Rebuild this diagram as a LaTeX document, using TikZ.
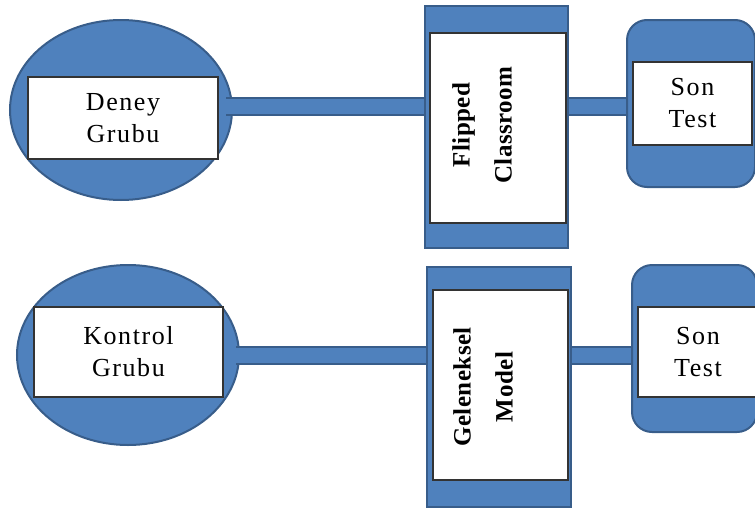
\documentclass[tikz,border=0pt]{standalone}
\usepackage{fontspec}
\setmainfont{Liberation Serif}
\newfontfamily\kutufont[LetterSpace=6]{Liberation Serif}
\newfontfamily\dikfont[LetterSpace=2]{Liberation Serif}
\usetikzlibrary{shapes.geometric}
\definecolor{kutumavi}{HTML}{4F81BD}
\definecolor{kenarmavi}{HTML}{385D8A}
\tikzset{
  mavi/.style={fill=kutumavi, draw=kenarmavi, line width=2pt, inner sep=0pt},
  grupell/.style={mavi, ellipse, minimum width=222pt, minimum height=180pt},
  beyaz/.style={fill=white, draw=black!80, line width=1.2pt, inner sep=0pt, align=center,
    font={\kutufont\fontsize{26}{32}\selectfont}},
  dikyazi/.style={rotate=90, align=center, inner sep=0pt,
    font={\dikfont\bfseries\fontsize{25}{42}\selectfont}},
  bar/.style={draw=kenarmavi, line width=2pt, double=kutumavi, double distance=15pt}
}
\begin{document}
\begin{tikzpicture}[x=1pt, y=-1pt]
    \useasboundingbox (0,0) rectangle (755,509);
    \coordinate (r1) at (0,106);
    \coordinate (r2) at (0,355);
        \node[grupell] (deney) at (121,110) {};
            \node[beyaz, minimum width=190pt, minimum height=82pt] (deneyk) at (123,118) {Deney\\Grubu};
        \node[mavi, minimum width=143pt, minimum height=242pt] (flipped) at (496.5,127) {};
            \node[beyaz, minimum width=136pt, minimum height=190pt] (flippedk) at (498,128) {};
            \node[dikyazi] (flippedt) at (482,125) {Flipped\\Classroom};
        \node[mavi, rounded corners=20pt, minimum width=128pt, minimum height=167pt] (son1) at (691,103.5) {};
            \node[beyaz, minimum width=119pt, minimum height=83pt] (son1k) at (692.5,103.5) {Son\\Test};
        \draw[bar] (deney.east |- r1) ++(-7,0) -- (flipped.west |- r1);
        \draw[bar] (flipped.east |- r1) -- (son1.west |- r1);
    
        \node[grupell] (kontrol) at (128,355) {};
            \node[beyaz, minimum width=189pt, minimum height=90pt] (kontrolk) at (128.5,352) {Kontrol\\Grubu};
        \node[mavi, minimum width=144pt, minimum height=240pt] (geleneksel) at (499,387) {};
            \node[beyaz, minimum width=135pt, minimum height=190pt] (geleneksek) at (500.5,385) {};
            \node[dikyazi] (gelenekselt) at (483,387) {Geleneksel\\Model};
        \node[mavi, rounded corners=20pt, minimum width=125pt, minimum height=167pt] (son2) at (694.5,348.5) {};
            \node[beyaz, minimum width=120pt, minimum height=90pt] (son2k) at (698,352) {Son\\Test};
        \draw[bar] (kontrol.east |- r2) ++(-4,0) -- (geleneksel.west |- r2);
        \draw[bar] (geleneksel.east |- r2) -- (son2.west |- r2);
\end{tikzpicture}
\end{document}
